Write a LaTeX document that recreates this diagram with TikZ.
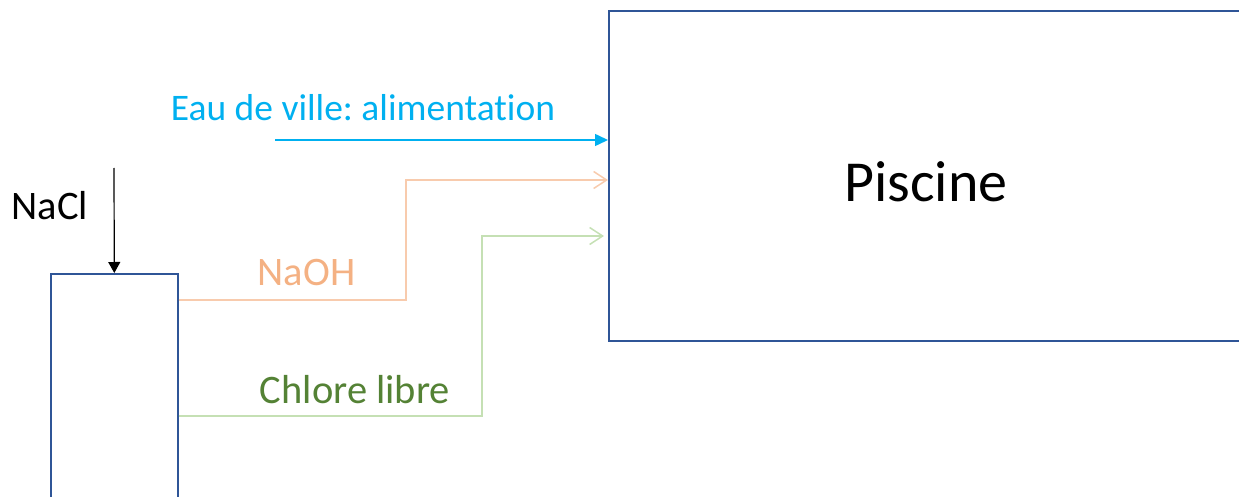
\documentclass[tikz,border=0pt]{standalone}
\usepackage{fontspec}
\setmainfont[Ligatures=NoCommon]{Carlito}
\frenchspacing
\usetikzlibrary{arrows.meta}
\definecolor{boxblue}{HTML}{2F5597}
\definecolor{eaublue}{HTML}{00B0F0}
\definecolor{orangetxt}{HTML}{F4B183}
\definecolor{orangeline}{HTML}{F8CBAD}
\definecolor{greentxt}{HTML}{548235}
\definecolor{greenline}{HTML}{C5E0B4}
\tikzset{
  vessel/.style={draw=boxblue, line width=1.6pt, fill=white, inner sep=0pt},
  lbl/.style={inner sep=0pt, anchor=base},
  openarrow/.style={line width=1.5pt, -{Straight Barb[length=13pt,width=17pt,line width=1.5pt]}},
}
\begin{document}
\begin{tikzpicture}[x=1pt,y=-1pt]
\useasboundingbox (0,0) rectangle (1239,497);
\clip (0,0) rectangle (1239,497);
% Piscine box (right edge beyond picture)
\node[vessel, minimum width=660pt, minimum height=330pt, anchor=north west] (pool) at (608,10) {};
\node[lbl, font=\fontsize{58}{68}\selectfont] (piscine) at (926,201.7) {Piscine};
% tank (bottom beyond picture)
\node[vessel, minimum width=127pt, minimum height=260pt, anchor=north west] (tank) at (50,273) {};
% labels
\node[lbl, text=eaublue, font=\fontsize{37.5}{45}\selectfont] (eau) at (363,120.7) {Eau de ville: alimentation};
\node[lbl, font=\fontsize{40.5}{48}\selectfont] (nacl) at (50,219) {NaCl};
\node[lbl, text=orangetxt, font=\fontsize{40.5}{48}\selectfont] (naoh) at (306.5,285) {NaOH};
\node[lbl, text=greentxt, font=\fontsize{40.5}{48}\selectfont] (chlore) at (355,403) {Chlore libre};
% free ends
\coordinate (eaustart) at (275,140);
\coordinate (naclstart) at (114,168);
% connectors
\draw[eaublue, line width=1.5pt, -{Triangle[length=13pt,width=12pt]}] (eaustart) -- ([yshift=-130pt]pool.north west);
\draw[black, line width=1.2pt, -{Triangle[length=11pt,width=12pt]}] (naclstart) -- (tank.north);
\draw[orangeline, openarrow] ([yshift=-27pt]tank.north east) -| (406,180) -- ([yshift=-170pt]pool.north west);
\draw[greenline, openarrow] ([yshift=-143pt]tank.north east) -| (482,236) -- ([xshift=-4pt,yshift=-226pt]pool.north west);
\end{tikzpicture}
\end{document}
